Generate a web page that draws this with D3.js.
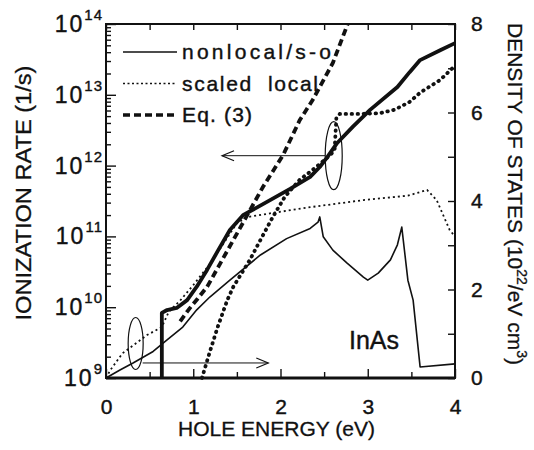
<!DOCTYPE html>
<html>
<head>
<meta charset="utf-8">
<script src="https://cdn.jsdelivr.net/npm/d3@7"></script>
<style>
  body { margin: 0; background: #fff; }
  svg text { font-family: "Liberation Sans", Arial, sans-serif; fill: #111; }
</style>
</head>
<body>
<div id="chart"></div>
<script>
// energies (eV) and log10 ionization rates (1/s) / DOS (1e22 /eV cm3)
var eRateNonlocal = [0.64, 0.64, 0.70, 0.81, 0.93, 1.04, 1.16, 1.27, 1.42, 1.57, 1.85, 2.11, 2.34, 2.45, 2.53, 2.65, 2.83, 3.03, 3.34, 3.48, 3.60, 3.83, 4.00];
var logRateNonlocal = [9.0, 9.92, 9.96, 9.99, 10.10, 10.29, 10.53, 10.77, 11.09, 11.30, 11.49, 11.67, 11.84, 11.98, 12.11, 12.32, 12.55, 12.79, 13.11, 13.32, 13.49, 13.63, 13.73];

var eRateLocal = [1.10, 1.19, 1.28, 1.39, 1.46, 1.65, 1.77, 1.91, 2.05, 2.22, 2.40, 2.57, 2.62, 2.64, 2.68, 2.91, 3.14, 3.31, 3.48, 3.60, 3.83, 4.00];
var logRateLocal = [9.00, 9.37, 9.72, 10.10, 10.29, 10.67, 10.95, 11.27, 11.56, 11.80, 11.97, 12.15, 12.22, 12.67, 12.73, 12.73, 12.74, 12.79, 12.90, 13.03, 13.21, 13.41];

var eEq3 = [0.85, 0.95, 1.05, 1.16, 1.31, 1.46, 1.65, 1.80, 2.03, 2.22, 2.37, 2.60, 2.77];
var logRateEq3 = [9.80, 9.97, 10.12, 10.29, 10.62, 10.95, 11.37, 11.70, 12.15, 12.64, 12.93, 13.45, 14.0];

var eDosNonlocal = [0, 0.16, 0.31, 0.54, 0.70, 0.88, 1.04, 1.19, 1.42, 1.77, 2.07, 2.34, 2.43, 2.45, 2.49, 2.60, 2.76, 2.95, 3.00, 3.12, 3.26, 3.34, 3.39, 3.46, 3.52, 3.60, 4.00];
var dosNonlocal = [0, 0.18, 0.34, 0.60, 0.86, 1.15, 1.54, 1.83, 2.21, 2.78, 3.15, 3.38, 3.52, 3.64, 3.19, 2.89, 2.60, 2.28, 2.21, 2.37, 2.67, 3.01, 3.41, 2.21, 1.76, 0.25, 0.32];

var eDosLocal = [0, 0.05, 0.19, 0.47, 0.64, 0.72, 0.85, 1.00, 1.20, 1.40, 1.50, 1.63, 1.91, 2.34, 2.95, 3.46, 3.68, 3.79, 3.94, 4.00];
var dosLocal = [0, 0.18, 0.56, 0.97, 1.15, 1.50, 1.75, 2.10, 2.60, 3.20, 3.50, 3.64, 3.73, 3.86, 4.02, 4.12, 4.25, 4.02, 3.34, 3.20];

var energyTicks = [0, 1, 2, 3, 4];
var rateExponents = [9, 10, 11, 12, 13, 14];
var dosTicks = [0, 2, 4, 6, 8];
var legendLabels = ["nonlocal/s-o", "scaled  local", "Eq. (3)"];

var width = 534, height = 450;
var plotLeft = 106, plotRight = 455, plotTop = 24, plotBottom = 378;

var svg = d3.select("#chart").append("svg").attr("width", width).attr("height", height);

var x = d3.scaleLinear().domain([0, 4]).range([plotLeft, plotRight]);
var yRate = d3.scaleLog().domain([1e9, 1e14]).range([plotBottom, plotTop]);
var yDos = d3.scaleLinear().domain([0, 8]).range([plotBottom, plotTop]);

function zip(a, b) { return a.map(function (d, i) { return [d, b[i]]; }); }

var rateLine = d3.line().x(d => x(d[0])).y(d => yRate(Math.pow(10, d[1])));
var dosLine = d3.line().x(d => x(d[0])).y(d => yDos(d[1]));

// --- axes (inward ticks) ---
var halfSteps = d3.range(0, 4.01, 0.5);
svg.append("g").attr("transform", "translate(0," + plotBottom + ")")
    .call(d3.axisBottom(x).tickValues(halfSteps.filter(d => d % 1 != 0)).tickSize(-6).tickFormat(""));
svg.append("g").attr("transform", "translate(0," + plotBottom + ")")
    .call(d3.axisBottom(x).tickValues(energyTicks).tickSize(-9).tickPadding(21).tickFormat(d3.format("d")));
svg.append("g").attr("transform", "translate(0," + plotTop + ")")
    .call(d3.axisTop(x).tickValues(halfSteps).tickSize(-6).tickFormat(""));

var minorRate = [];
rateExponents.slice(0, -1).forEach(function (p) {
    for (var k = 2; k <= 9; k++) minorRate.push(k * Math.pow(10, p));
});
svg.append("g").attr("transform", "translate(" + plotLeft + ",0)")
    .call(d3.axisLeft(yRate).tickValues(minorRate).tickSize(-5).tickFormat(""));
svg.append("g").attr("transform", "translate(" + plotLeft + ",0)")
    .call(d3.axisLeft(yRate).tickValues(rateExponents.map(p => Math.pow(10, p))).tickSize(-10).tickFormat(""));
svg.append("g").attr("transform", "translate(" + plotRight + ",0)")
    .call(d3.axisRight(yDos).tickValues(d3.range(0, 9)).tickSize(-7).tickPadding(16)
        .tickFormat(d => dosTicks.indexOf(d) >= 0 ? d : ""));

svg.selectAll(".domain").remove();
svg.selectAll(".tick line").attr("stroke", "#111").attr("stroke-width", 1.4);
svg.selectAll(".tick text").attr("font-size", 21).attr("fill", "#111").attr("stroke", "#111").attr("stroke-width", 0.4);

// frame
svg.append("rect").attr("x", plotLeft).attr("y", plotTop).attr("width", plotRight - plotLeft).attr("height", plotBottom - plotTop)
    .attr("fill", "none").attr("stroke", "#111").attr("stroke-width", 2);
svg.append("line").attr("x1", plotLeft).attr("x2", plotRight).attr("y1", plotBottom).attr("y2", plotBottom)
    .attr("stroke", "#111").attr("stroke-width", 3);

// left tick labels 10^n
var rateLabels = svg.append("g").selectAll("text").data(rateExponents).enter().append("text")
    .attr("x", plotLeft - 3)
    .attr("y", d => yRate(Math.pow(10, d)) + 8)
    .attr("text-anchor", "end")
    .attr("stroke", "#111").attr("stroke-width", 0.4);
rateLabels.append("tspan").attr("font-size", 23).attr("letter-spacing", 2).text("10");
rateLabels.append("tspan").attr("font-size", 15).attr("letter-spacing", 1).attr("dy", -12).text(d => d);

// --- curves ---
var plot = svg.append("g");
plot.append("path").datum(zip(eDosNonlocal, dosNonlocal)).attr("d", dosLine)
    .attr("fill", "none").attr("stroke", "#111").attr("stroke-width", 1.6).attr("stroke-linejoin", "round");
plot.append("path").datum(zip(eDosLocal, dosLocal)).attr("d", dosLine)
    .attr("fill", "none").attr("stroke", "#111").attr("stroke-width", 1.8).attr("stroke-dasharray", "2,3");
plot.append("path").datum(zip(eRateNonlocal, logRateNonlocal)).attr("d", rateLine)
    .attr("fill", "none").attr("stroke", "#111").attr("stroke-width", 3.8).attr("stroke-linejoin", "round");
plot.append("path").datum(zip(eRateLocal, logRateLocal)).attr("d", rateLine)
    .attr("fill", "none").attr("stroke", "#111").attr("stroke-width", 3.8)
    .attr("stroke-linecap", "round").attr("stroke-dasharray", "0.5,5.5");
plot.append("path").datum(zip(eEq3, logRateEq3)).attr("d", rateLine)
    .attr("fill", "none").attr("stroke", "#111").attr("stroke-width", 3.8)
    .attr("stroke-dasharray", "7,4");

// ellipses and arrows
function arrow(x1, x2, yy) {
    var dir = x2 > x1 ? -1 : 1;
    plot.append("line").attr("x1", x1).attr("x2", x2).attr("y1", yy).attr("y2", yy)
        .attr("stroke", "#111").attr("stroke-width", 1);
    plot.append("path")
        .attr("d", "M" + (x2 + dir * 12) + "," + (yy - 5) + "L" + x2 + "," + yy + "L" + (x2 + dir * 12) + "," + (yy + 5))
        .attr("fill", "none").attr("stroke", "#111").attr("stroke-width", 1.2);
}
plot.append("ellipse").attr("cx", x(0.34)).attr("cy", yDos(0.78)).attr("rx", 7.5).attr("ry", 26)
    .attr("fill", "none").attr("stroke", "#111").attr("stroke-width", 1.2);
arrow(x(0.42), x(1.86), yDos(0.34));
plot.append("ellipse").attr("cx", x(2.61)).attr("cy", yRate(Math.pow(10, 12.14))).attr("rx", 8.5).attr("ry", 34)
    .attr("fill", "none").attr("stroke", "#111").attr("stroke-width", 1.2);
arrow(x(2.51), x(1.33), yRate(Math.pow(10, 12.14)));

// legend
var legendStyles = [
    {w: 1.4, dash: null},
    {w: 1.6, dash: "2,2.5"},
    {w: 3.6, dash: "7,4"}
];
var legendTextLen = [149, 136, 70];
var lg = svg.append("g").selectAll("g").data(legendLabels).enter().append("g")
    .attr("transform", (d, i) => "translate(0," + (52 + i * 31.5) + ")");
lg.append("line").attr("x1", 123).attr("x2", 177).attr("y1", 0).attr("y2", 0)
    .attr("stroke", "#111")
    .attr("stroke-width", (d, i) => legendStyles[i].w)
    .attr("stroke-dasharray", (d, i) => legendStyles[i].dash);
lg.append("text").attr("x", 182).attr("y", 7).attr("font-size", 21)
    .attr("textLength", (d, i) => legendTextLen[i]).attr("lengthAdjust", "spacing")
    .attr("stroke", "#111").attr("stroke-width", 0.4)
    .style("white-space", "pre")
    .text(d => d);

// InAs label
svg.append("text").attr("x", 349).attr("y", 349).attr("font-size", 25)
    .attr("stroke", "#111").attr("stroke-width", 0.4).text("InAs");

// axis titles
svg.append("text").attr("x", (plotLeft + plotRight) / 2 - 4).attr("y", 436).attr("text-anchor", "middle")
    .attr("font-size", 21).attr("textLength", 197).attr("lengthAdjust", "spacingAndGlyphs")
    .attr("stroke", "#111").attr("stroke-width", 0.3)
    .text("HOLE ENERGY (eV)");
svg.append("text").attr("transform", "translate(31,193) rotate(-90)").attr("text-anchor", "middle")
    .attr("font-size", 22).attr("textLength", 255).attr("lengthAdjust", "spacingAndGlyphs")
    .attr("stroke", "#111").attr("stroke-width", 0.3)
    .text("IONIZATION RATE (1/s)");
var rt = svg.append("text").attr("transform", "translate(508,194) rotate(90)").attr("text-anchor", "middle")
    .attr("font-size", 21).attr("stroke", "#111").attr("stroke-width", 0.3);
rt.append("tspan").text("DENSITY OF STATES (10");
rt.append("tspan").attr("font-size", 14).attr("dy", -9).text("22");
rt.append("tspan").attr("dy", 9).text("/eV cm");
rt.append("tspan").attr("font-size", 14).attr("dy", -9).text("3");
rt.append("tspan").attr("dy", 9).text(")");
</script>
</body>
</html>
